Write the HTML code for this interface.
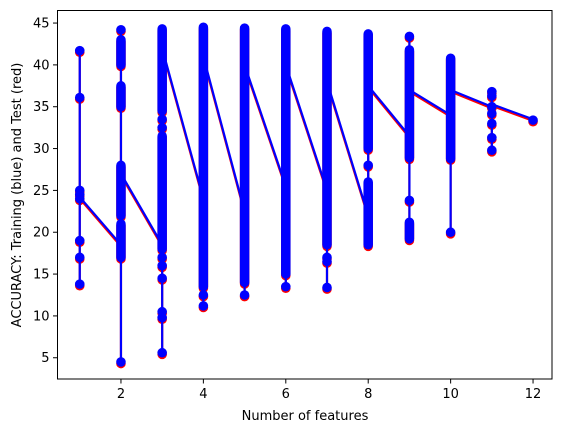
<!DOCTYPE html>
<html><head><meta charset="utf-8"><style>
html,body{margin:0;padding:0;background:#fff;}
svg{display:block;font-family:"DejaVu Sans","Liberation Sans",sans-serif;}
</style></head><body>
<svg id="chart" width="563" height="432">
<rect x="0" y="0" width="563" height="432" fill="#fff"/>
<g id="plot"></g>
<rect x="57.5" y="10.5" width="494.5" height="368.5" fill="none" stroke="#000" stroke-width="1"/>
<g id="axes"></g>
<text x="305" y="420" text-anchor="middle" font-size="13">Number of features</text>
<text transform="translate(21,195) rotate(-90)" text-anchor="middle" font-size="13">ACCURACY: Training (blue) and Test (red)</text>
</svg>
<script>
// data
const features = [1,2,3,4,5,6,7,8,9,10,11,12];
const entryVals = [41.7,18.5,18.5,24,22.5,25.5,25,22,31.5,34,35,33.5];
const exitVals  = [24.2,27,42,41,40,40,38,37.5,37,37,35.3,33.4];
const denseLow  = [[],[40,35,22,17],[34.5,18],[13.5],[14],[15],[18.5],[30,18.5],[28.9,19.2],[28.8],[],[]];
const denseHigh = [[],[43,37.5,28,21],[44.3,31.5],[44.5],[44.4],[44.3],[44],[43.7,26],[41.8,21.2],[40.8],[],[]];
const singlePts = [[41.7,36.1,25,24.5,24,19,17,13.8],[44.2,4.5],[33.5,32.5,17,16,14.5,10.5,9.8,5.6],[12.5,11.2],[12.5],[13.5],[17,16.5,13.4],[28],[43.4,23.8],[20],[36.8,36.3,35,34.2,33,31.3,29.8],[33.4]];
const xTicks = [2,4,6,8,10,12];
const yTicks = [5,10,15,20,25,30,35,40,45];

const L=57.5,R=552,T=10.5,B=379;
const X0=0.46,X1=12.46,Y0=2.46,Y1=46.5;
function sx(v){return L+(v-X0)/(X1-X0)*(R-L);}
function sy(v){return B-(v-Y0)/(Y1-Y0)*(B-T);}
const NS='http://www.w3.org/2000/svg';
const plot=document.getElementById('plot');
const axes=document.getElementById('axes');
function mk(tag,attrs,parent){const e=document.createElementNS(NS,tag);for(const k in attrs)e.setAttribute(k,attrs[k]);parent.appendChild(e);return e;}

function drawSeries(color,dy,name){
  const g=mk('g',{transform:'translate(0,'+dy+')'},plot);
  
  
  let pts=[];
  features.forEach((f,i)=>{
    const all=singlePts[i].concat(denseLow[i],denseHigh[i],[entryVals[i],exitVals[i]]);
    const mn=Math.min(...all),mx=Math.max(...all);
    pts.push([sx(f),sy(entryVals[i])]);
    pts.push([sx(f),sy(mn)]);
    pts.push([sx(f),sy(mx)]);
    pts.push([sx(f),sy(exitVals[i])]);
  });
  const line=mk('polyline',{points:pts.map(p=>p.join(',')).join(' '),fill:'none',stroke:color,'stroke-width':2.2,'stroke-linejoin':'round'},g);
  
  
  features.forEach((f,i)=>{
    denseLow[i].forEach((lo,j)=>{
      const s=mk('line',{x1:sx(f),x2:sx(f),y1:sy(lo),y2:sy(denseHigh[i][j]),stroke:color,'stroke-width':9.5,'stroke-linecap':'round'},g);
      
      
    });
    singlePts[i].forEach(v=>{
      const c=mk('circle',{cx:sx(f),cy:sy(v),r:4.8,fill:color},g);
      
      
    });
  });
}
drawSeries('#ff0000',1.6,'test-series');
drawSeries('#0000ff',0,'train-series');

xTicks.forEach(t=>{
  const x=sx(t);
  const tk=mk('line',{x1:x,x2:x,y1:B,y2:B+4.5,stroke:'#000','stroke-width':1},axes);
  
  
  const tx=mk('text',{x:x,y:B+19,'text-anchor':'middle','font-size':13},axes);
  tx.textContent=t;
  
  
});
yTicks.forEach(t=>{
  const y=sy(t);
  const tk=mk('line',{x1:L-4.5,x2:L,y1:y,y2:y,stroke:'#000','stroke-width':1},axes);
  
  
  const tx=mk('text',{x:L-8,y:y+4.5,'text-anchor':'end','font-size':13},axes);
  tx.textContent=t;
  
  
});
</script>
</body></html>
